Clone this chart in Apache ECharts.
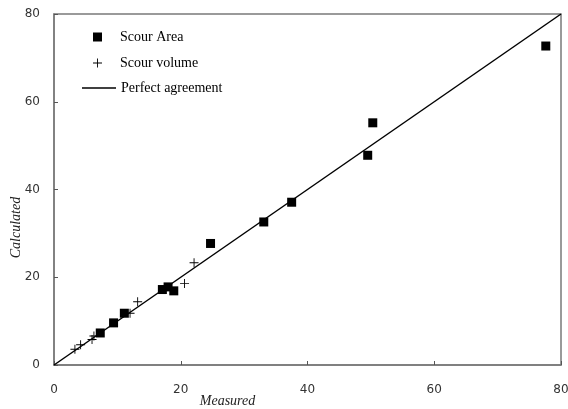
<!DOCTYPE html>
<html>
<head>
<meta charset="utf-8">
<script src="https://cdn.jsdelivr.net/npm/echarts@6/dist/echarts.min.js"></script>
<style>
  html, body { margin: 0; padding: 0; background: #fff; }
  #myChart { width: 568px; height: 409px; }
</style>
</head>
<body>
<div id="myChart"></div>
<script>
// values
var scourArea = [
  [7.3, 7.3], [9.4, 9.6], [11.1, 11.8], [17.1, 17.2], [18.0, 17.8],
  [18.9, 16.9], [24.7, 27.7], [33.1, 32.6], [37.5, 37.1],
  [49.5, 47.8], [50.3, 55.2], [77.6, 72.7]
];
var scourVolume = [
  [3.3, 3.6], [4.2, 4.6], [6.0, 5.8], [6.3, 6.6], [12.0, 11.8],
  [13.2, 14.4], [20.6, 18.6], [22.1, 23.3]
];
var perfectLine = [[0, 0], [80, 80]];
var axisTicks = { min: 0, max: 80, interval: 20 };

var plusPath = 'path://M3.6,0h0.8v8h-0.8zM0,3.6h8v0.8h-8z';
var serif = 'Liberation Serif';
var legendText = { fontFamily: serif, fontSize: 14, color: '#000' };

var myChart = echarts.init(document.getElementById('myChart'));

var axisCommon = {
  type: 'value',
  min: axisTicks.min,
  max: axisTicks.max,
  interval: axisTicks.interval,
  splitLine: { show: false },
  axisLine: { lineStyle: { color: '#7a7a7a', width: 1.5 } },
  axisTick: { inside: true, length: 4, lineStyle: { color: '#555' } },
  nameLocation: 'middle',
  nameMoveOverlap: false
};

var option = {
  animation: false,
  grid: {
    left: 54, right: 7, top: 14, bottom: 44,
    outerBoundsMode: 'none',
    show: true, borderColor: '#7a7a7a', borderWidth: 1.5
  },
  legend: [
    {
      data: [{ name: 'Scour Area', icon: 'rect' }],
      left: 93, top: 30, padding: 0, itemWidth: 9, itemHeight: 9,
      textStyle: Object.assign({ padding: [0, 0, 0, 13] }, legendText)
    },
    {
      data: [{ name: 'Scour volume', icon: plusPath }],
      left: 93, top: 56, padding: 0, itemWidth: 9, itemHeight: 9,
      textStyle: Object.assign({ padding: [0, 0, 0, 13] }, legendText)
    },
    {
      data: [{ name: 'Perfect agreement', icon: 'rect' }],
      left: 82, top: 81, padding: 0, itemWidth: 34, itemHeight: 1.5,
      textStyle: legendText
    }
  ],
  xAxis: Object.assign({}, axisCommon, {
    name: 'Measured',
    nameGap: 29,
    nameTextStyle: { fontFamily: serif, fontStyle: 'italic', fontSize: 14, color: '#222', padding: [0, 160, 0, 0] },
    axisLabel: { margin: 19, fontFamily: 'DejaVu Sans', fontSize: 12, color: '#333' }
  }),
  yAxis: Object.assign({}, axisCommon, {
    name: 'Calculated',
    nameGap: 31,
    nameTextStyle: { fontFamily: serif, fontStyle: 'italic', fontSize: 14, color: '#222', padding: [0, 76, 0, 0] },
    axisLabel: { margin: 14, fontFamily: 'DejaVu Sans', fontSize: 12, color: '#333' }
  }),
  series: [
    {
      name: 'Perfect agreement',
      type: 'line',
      data: perfectLine,
      symbol: 'none',
      z: 1,
      lineStyle: { color: '#000', width: 1.5 },
      itemStyle: { color: '#000' }
    },
    {
      name: 'Scour Area',
      type: 'scatter',
      data: scourArea,
      symbol: 'rect',
      symbolSize: 9,
      z: 3,
      itemStyle: { color: '#000', opacity: 1 }
    },
    {
      name: 'Scour volume',
      type: 'scatter',
      data: scourVolume,
      symbol: plusPath,
      symbolSize: 9,
      z: 3,
      itemStyle: { color: '#000', opacity: 1 }
    }
  ]
};
myChart.setOption(option);
</script>
</body>
</html>
